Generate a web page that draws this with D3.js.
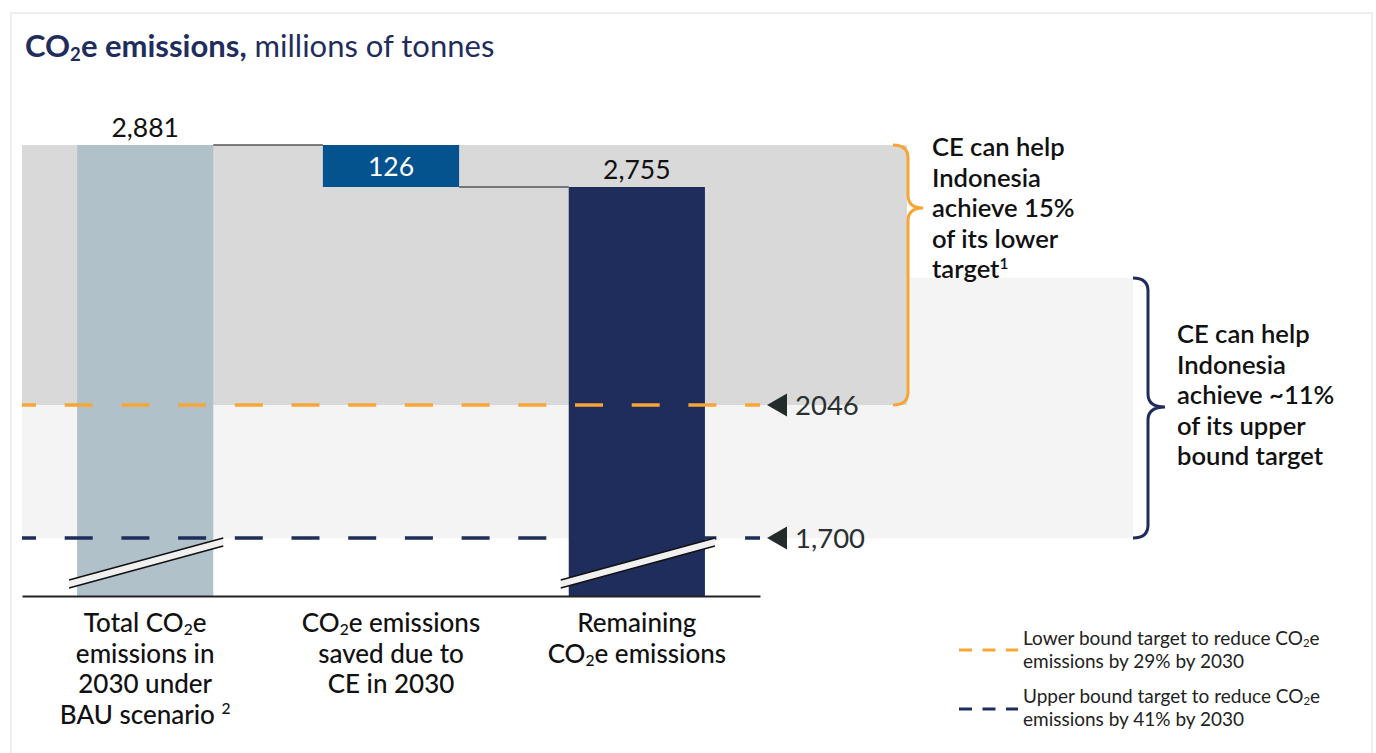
<!DOCTYPE html>
<html>
<head>
<meta charset="utf-8">
<script src="https://cdn.jsdelivr.net/npm/d3@7"></script>
<style>
  body { margin: 0; background: #fff; }
  svg { display: block; font-family: Lato, "Noto Sans", sans-serif; }
</style>
</head>
<body>
<script>
// chart values
var categories = ["total", "saved", "remaining"];
var categoryLines = [
  ["Total CO₂e", "emissions in", "2030 under", "BAU scenario ²"],
  ["CO₂e emissions", "saved due to", "CE in 2030"],
  ["Remaining", "CO₂e emissions"]
];
var barTop = [2881, 2881, 2755];
var barBottom = [0, 2755, 0];
var valueLabels = ["2,881", "126", "2,755"];
var targetValues = [2046, 1700];
var targetLabels = ["2046", "1,700"];
var braceText = [
  ["CE can help", "Indonesia", "achieve 15%", "of its lower", "target¹"],
  ["CE can help", "Indonesia", "achieve ~11%", "of its upper", "bound target"]
];
var legendLines = [
  ["Lower bound target to reduce CO₂e", "emissions by 29% by 2030"],
  ["Upper bound target to reduce CO₂e", "emissions by 41% by 2030"]
];

var W = 1376, H = 753;
var orange = "#f7a535", navy = "#1f2d5c";

var svg = d3.select("body").append("svg")
  .attr("width", W).attr("height", H);

svg.append("rect")
  .attr("x", 11).attr("y", 13).attr("width", 1361).attr("height", 780)
  .attr("fill", "#fff").attr("stroke", "#eeeeee").attr("stroke-width", 2);

// text with sub/superscripts
function richText(sel, str, size) {
  var parts = str.split(/([₂¹²])/);
  var shift = 0;
  parts.forEach(function(p) {
    if (!p) return;
    var t = sel.append("tspan");
    if (p === "₂") {
      t.attr("font-size", size * 0.6).attr("dy", size * 0.12 - shift).text("2");
      shift = size * 0.12;
    } else if (p === "¹" || p === "²") {
      t.attr("font-size", size * 0.6).attr("dy", -size * 0.36 - shift).text(p === "¹" ? "1" : "2");
      shift = -size * 0.36;
    } else {
      if (shift) t.attr("dy", -shift);
      shift = 0;
      t.text(p);
    }
  });
}

// title
var title = svg.append("text").attr("x", 25).attr("y", 57)
  .attr("font-size", 31).attr("fill", navy);
richText(title.append("tspan").attr("font-weight", 700), "CO₂e emissions,", 31);
title.append("tspan").text(" millions of tonnes");

// scales (schematic, broken axis)
var y = d3.scaleLinear()
  .domain([0, 1700, 2046, 2755, 2881])
  .range([596, 538, 405, 187, 145]);

var x = d3.scaleBand()
  .domain(categories)
  .range([22, 760])
  .paddingInner(0.446)
  .paddingOuter(0.224);

// background bands
var bandH = y(targetValues[0]) - y(barTop[0]);
svg.append("rect")
  .attr("x", 22).attr("y", y(targetValues[1]) - bandH)
  .attr("width", 1133 - 22).attr("height", bandH)
  .attr("fill", "#f4f4f4");
svg.append("rect")
  .attr("x", 22).attr("y", y(barTop[0]))
  .attr("width", 907 - 22).attr("height", bandH)
  .attr("fill", "#d9d9d9");

// bars
var barColors = ["#b0c1ca", "#04538f", navy];
svg.selectAll("rect.bar").data(categories).enter()
  .append("rect")
  .attr("class", "bar")
  .attr("x", function(d) { return x(d); })
  .attr("y", function(d, i) { return y(barTop[i]); })
  .attr("width", x.bandwidth())
  .attr("height", function(d, i) { return y(barBottom[i]) - y(barTop[i]); })
  .attr("fill", function(d, i) { return barColors[i]; });

// connectors
for (var i = 0; i < 2; i++) {
  var v = i === 0 ? barTop[0] : barBottom[1];
  svg.append("line")
    .attr("x1", x(categories[i]) + x.bandwidth()).attr("x2", x(categories[i + 1]))
    .attr("y1", y(v)).attr("y2", y(v))
    .attr("stroke", "#555").attr("stroke-width", 1.5);
}

// target dashed lines
targetValues.forEach(function(t, i) {
  svg.append("line")
    .attr("x1", 22).attr("x2", 760)
    .attr("y1", y(t)).attr("y2", y(t))
    .attr("stroke", i === 0 ? orange : navy)
    .attr("stroke-width", 3.5)
    .attr("stroke-dasharray", "28,28.7")
    .attr("stroke-dashoffset", 14);
  svg.append("path")
    .attr("d", "M767," + y(t) + "L787," + (y(t) - 11.5) + "L787," + (y(t) + 11.5) + "Z")
    .attr("fill", "#232b2b");
  svg.append("text")
    .attr("x", 795).attr("y", y(t) + 10)
    .attr("font-size", 27.5).attr("fill", "#2a3030")
    .text(targetLabels[i]);
});

// axis
var axis = svg.append("g")
  .attr("transform", "translate(0," + y(0) + ")")
  .call(d3.axisBottom(x).tickSize(0).tickSizeOuter(0).tickFormat(""));
axis.select(".domain").attr("stroke", "#222").attr("stroke-width", 2);

// axis break marks on bars 1 and 3
[0, 2].forEach(function(i) {
  var x0 = x(categories[i]) - 8, x1 = x(categories[i]) + x.bandwidth() + 10;
  var yb = y(0) - 8, yt = y(0) - 50, g = 8;
  svg.append("path")
    .attr("d", "M" + x0 + "," + yb + "L" + x1 + "," + yt + "L" + x1 + "," + (yt - g) + "L" + x0 + "," + (yb - g) + "Z")
    .attr("fill", "#f0f0f0");
  [0, g].forEach(function(o) {
    svg.append("line")
      .attr("x1", x0).attr("y1", yb - o).attr("x2", x1).attr("y2", yt - o)
      .attr("stroke", "#111").attr("stroke-width", 1.5);
  });
});

// value labels
valueLabels.forEach(function(lab, i) {
  var inside = i === 1;
  svg.append("text")
    .attr("x", x(categories[i]) + x.bandwidth() / 2)
    .attr("y", inside ? y(barTop[i]) + 31 : y(barTop[i]) - 8)
    .attr("text-anchor", "middle")
    .attr("font-size", 26.5)
    .attr("fill", inside ? "#fff" : "#111")
    .text(lab);
});

// category labels
categoryLines.forEach(function(lines, i) {
  lines.forEach(function(l, j) {
    var t = svg.append("text")
      .attr("x", x(categories[i]) + x.bandwidth() / 2)
      .attr("y", 632 + j * 30.5)
      .attr("text-anchor", "middle")
      .attr("font-size", 26).attr("font-weight", 500)
      .attr("fill", "#111");
    richText(t, l, 26);
  });
});

// braces
function brace(xe, xs, xt, y0, y1, ym, color) {
  var r = 13;
  svg.append("path")
    .attr("d", "M" + xe + "," + y0 + "Q" + xs + "," + y0 + " " + xs + "," + (y0 + r) +
      "L" + xs + "," + (ym - r) + "Q" + xs + "," + ym + " " + xt + "," + ym +
      "Q" + xs + "," + ym + " " + xs + "," + (ym + r) +
      "L" + xs + "," + (y1 - r) + "Q" + xs + "," + y1 + " " + xe + "," + y1)
    .attr("fill", "none").attr("stroke", color).attr("stroke-width", 3);
}
brace(893, 908, 923, y(barTop[0]), y(targetValues[0]), y(barTop[0]) + 63, orange);
brace(1133, 1148, 1165, y(targetValues[1]) - bandH, y(targetValues[1]), y(targetValues[0]) + 2, navy);

var braceTextPos = [[932, 156], [1177, 343]];
braceText.forEach(function(lines, i) {
  lines.forEach(function(l, j) {
    var t = svg.append("text")
      .attr("x", braceTextPos[i][0]).attr("y", braceTextPos[i][1] + j * 30.5)
      .attr("font-size", 25.6).attr("font-weight", 600)
      .attr("fill", "#111");
    richText(t, l, 25.6);
  });
});

// legend
var legendY = [650, 709];
legendLines.forEach(function(lines, i) {
  svg.append("line")
    .attr("x1", 959).attr("x2", 1018)
    .attr("y1", legendY[i]).attr("y2", legendY[i])
    .attr("stroke", i === 0 ? orange : navy).attr("stroke-width", 3)
    .attr("stroke-dasharray", "13,10.5");
  lines.forEach(function(l, j) {
    var t = svg.append("text")
      .attr("x", 1023).attr("y", (i === 0 ? 645 : 703) + j * 23)
      .attr("font-size", 19).attr("fill", "#222");
    richText(t, l, 19);
  });
});
</script>
</body>
</html>
